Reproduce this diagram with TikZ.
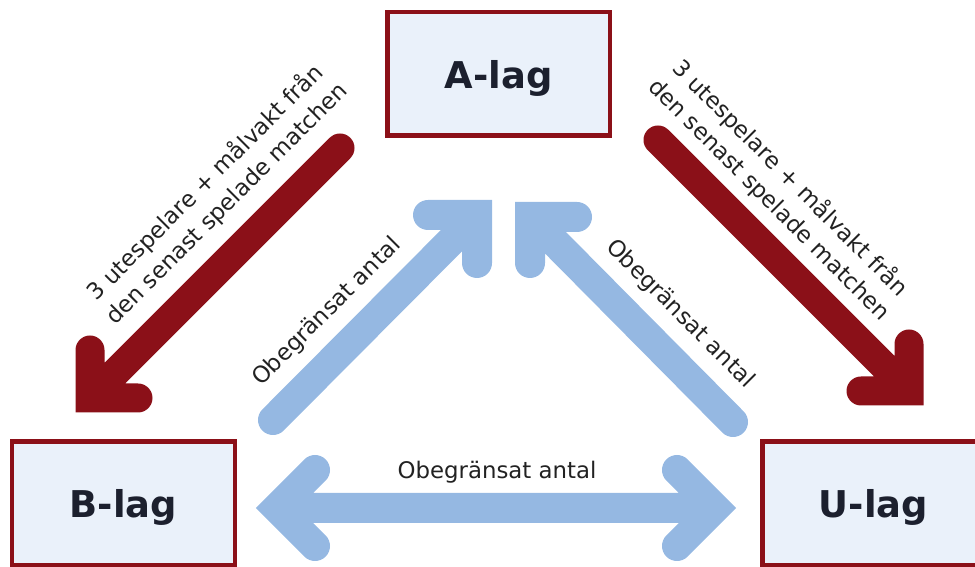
\documentclass[tikz,border=0pt]{standalone}
\usepackage{fontspec}
\setmainfont{DejaVu Sans}
\usetikzlibrary{calc}
\definecolor{lagred}{RGB}{139,16,24}
\definecolor{lagblue}{RGB}{149,184,226}
\definecolor{lagfill}{RGB}{234,241,250}
\definecolor{lagtext}{RGB}{28,32,46}
\definecolor{lbltext}{RGB}{34,34,34}
\begin{document}
\begin{tikzpicture}[x=0.2mm, y=-0.2mm,
      lag/.style={draw=lagred, fill=lagfill, line width=0.9mm, minimum width=44.5mm, minimum height=24.7mm, inner sep=0pt, text=lagtext, font=\fontsize{21}{25}\selectfont\bfseries, text depth=0pt},
      redarr/.style={draw=lagred, line width=5.8mm, line cap=round, line join=miter},
      bluearr/.style={draw=lagblue, line width=6mm, line cap=round, line join=miter},
      lbl/.style={text=lbltext, font=\fontsize{13}{17}\selectfont, align=center, inner sep=0pt}]
    \useasboundingbox (0,0) rectangle (975,567);
    \clip (0,0) rectangle (975,567);
    \node[lag] (alag) at (498.5,74) {A-lag};
    \node[lag] (blag) at (123.5,503.5) {B-lag};
    \node[lag] (ulag) at (873.5,503.5) {U-lag};
    \coordinate (rl-s) at (340,148);
    \coordinate (rl-t) at (90,398);
    \coordinate (rr-s) at (658,140);
    \coordinate (rr-t) at (909,391);
    \coordinate (bl-s) at (273,420);
    \coordinate (bl-t) at (477,215);
    \coordinate (br-s) at (733,422);
    \coordinate (br-t) at (530,217);
    \coordinate (bh-l) at (277,508);
    \coordinate (bh-r) at (715,508);
    \draw[redarr] (rl-s) -- (rl-t) ($(rl-t)+(0,-48)$) -- (rl-t) -- ++(48,0);
    \draw[redarr] (rr-s) -- (rr-t) ($(rr-t)+(0,-47)$) -- (rr-t) -- ++(-48,0);
    \draw[bluearr] (bl-s) -- (bl-t) ($(bl-t)+(-49,0)$) -- (bl-t) -- ++(0,48);
    \draw[bluearr] (br-s) -- (br-t) ($(br-t)+(47,0)$) -- (br-t) -- ++(0,46);
    \draw[bluearr] (bh-l) -- (bh-r) ($(bh-r)+(-38,-38)$) -- (bh-r) -- ++(-38,38) ($(bh-l)+(38,-38)$) -- (bh-l) -- ++(38,38);
    \node[lbl, rotate=45] (rl-lbl) at (216,193) {3 utespelare + målvakt från\\den senast spelade matchen};
    \node[lbl, rotate=-45] (rr-lbl) at (780,189) {3 utespelare + målvakt från\\den senast spelade matchen};
    \node[lbl, rotate=45] (bl-lbl) at (327,312) {Obegränsat antal};
    \node[lbl, rotate=-45] (br-lbl) at (680,314) {Obegränsat antal};
    \node[lbl, anchor=base] (bh-lbl) at (497,479) {Obegränsat antal};
  \end{tikzpicture}
\end{document}
